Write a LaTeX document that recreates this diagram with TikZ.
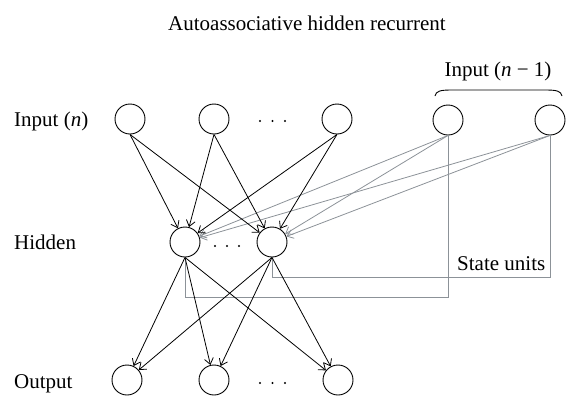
\documentclass[tikz,border=0pt]{standalone}
\usepackage{fontspec}
\setmainfont{Liberation Serif}
\usetikzlibrary{arrows.meta}
\definecolor{linkgray}{RGB}{140,146,152}
\begin{document}
\begin{tikzpicture}[x=1pt,y=-1pt,
  neuron/.style={circle,draw,line width=0.9pt,minimum size=30pt,inner sep=0pt},
  lbl/.style={font=\fontsize{21}{24}\selectfont,inner sep=0pt,anchor=base west},
  conn/.style={line width=0.8pt,-{Straight Barb[length=6pt,width=9pt,line width=0.8pt]}},
  gconn/.style={conn,draw=linkgray},
  state/.style={line width=0.9pt,draw=linkgray},
  dot/.style={circle,fill,inner sep=0pt,minimum size=2.4pt}]
\useasboundingbox (0,0) rectangle (571,400);
% title
\node[font=\fontsize{21}{24}\selectfont,inner sep=0pt,anchor=base] (title) at (307,30) {Autoassociative hidden recurrent};
% labels
\node[lbl] (linp) at (14,126) {Input (\textit{n})};
\node[lbl] (lhid) at (14,249) {Hidden};
\node[lbl] (lout) at (14,388) {Output};
\node[lbl] (lstate) at (457,270) {State units};
\node[lbl,anchor=base] (lprev) at (498,76) {Input (\textit{n} − 1)};
% brace
\draw[line width=0.9pt] (435,96) .. controls (436,91) and (440,90) .. (452,90) -- (545,90) .. controls (557,90) and (561,91) .. (562,96);
% neurons
\node[neuron] (in1) at (130,119) {};
\node[neuron] (in2) at (214,119) {};
\node[neuron] (in3) at (337,119) {};
\node[neuron] (in4) at (448,120) {};
\node[neuron] (in5) at (550,120) {};
\node[neuron] (h1) at (185,242) {};
\node[neuron] (h2) at (272,242) {};
\node[neuron] (o1) at (127,380) {};
\node[neuron] (o2) at (214,380) {};
\node[neuron] (o3) at (338,380) {};
% dots
\foreach \x [count=\i] in {260,272.5,285} {\node[dot] (di\i) at (\x,121) {};}
\foreach \x [count=\i] in {215,227,239} {\node[dot] (dh\i) at (\x,246) {};}
\foreach \x [count=\i] in {260,272.5,285} {\node[dot] (do\i) at (\x,383) {};}
% state unit copy lines
\coordinate (s1) at (185,297);
\coordinate (s2) at (272,277);
\draw[state] (h1.south) -- (s1) -| (in4.south);
\draw[state] (h2.south) -- (s2) -| (in5.south);
% gray connections
\foreach \s in {in4,in5} {
  \draw[gconn] (\s.south) -- (h1);
  \draw[gconn] (\s.south) -- (h2);
}
% black connections input->hidden
\foreach \s in {in1,in2,in3} {
  \draw[conn] (\s.south) -- (h1);
  \draw[conn] (\s.south) -- (h2);
}
% hidden->output
\foreach \s in {h1,h2} {
  \foreach \t in {o1,o2,o3} {
    \draw[conn] (\s.south) -- (\t);
  }
}
\end{tikzpicture}
\end{document}
